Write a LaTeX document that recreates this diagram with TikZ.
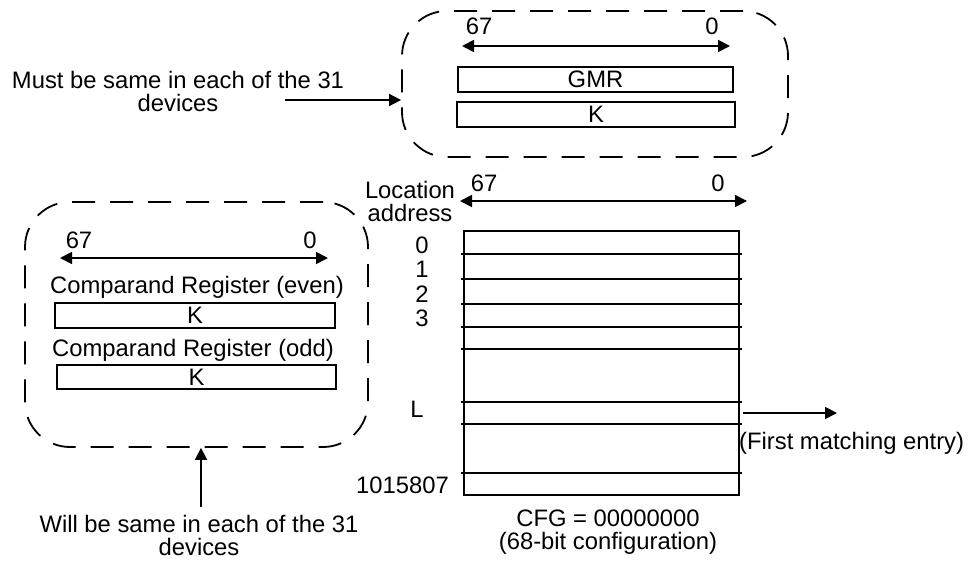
\documentclass[tikz,border=0pt]{standalone}
\usepackage{fontspec}
\setmainfont{Liberation Sans}
\usetikzlibrary{arrows.meta}
\begin{document}
\begin{tikzpicture}[x=1pt,y=-1pt,
  lbl/.style={inner sep=0pt,font=\fontsize{23.8}{23}\selectfont,align=center},
  reg/.style={draw,line width=1.8pt,inner sep=0pt,font=\fontsize{23.8}{23}\selectfont},
  dashbox/.style={draw,line width=1.8pt,dash pattern=on 23pt off 15pt,rounded corners=45pt,inner sep=0pt},
  arr/.style={line width=1.8pt,-{Triangle[length=12pt,width=12pt]}},
  dimarr/.style={line width=1.8pt,{Triangle[length=12pt,width=12pt]}-{Triangle[length=12pt,width=12pt]}},
  rowline/.style={line width=1.8pt}]
\useasboundingbox (0,0) rectangle (968,564);

% ---------- top group ----------
\node[dashbox,minimum width=386pt,minimum height=146pt] (grpA) at (595,84) {};
\coordinate (dA1) at (462,46);
\coordinate (dA2) at (730,46);
\draw[dimarr] (dA1) -- (dA2);
\node[lbl] (a67) at (479,26) {67};
\node[lbl] (a0) at (712,26) {0};
\node[reg,minimum width=275pt,minimum height=25pt] (gmr) at (595.5,79.5) {GMR};
\node[reg,minimum width=278pt,minimum height=25pt] (kA) at (596,114.5) {K};
\node[lbl] (must) at (178,91) {Must be same in each of the 31\\devices};
\coordinate (mustT) at (285,100);
\draw[arr] (mustT) -- (mustT -| grpA.west);

% ---------- left group ----------
\node[dashbox,minimum width=343pt,minimum height=245pt] (grpB) at (196.5,324.5) {};
\coordinate (dB1) at (60,258);
\coordinate (dB2) at (328,258);
\draw[dimarr] (dB1) -- (dB2);
\node[lbl] (b67) at (79,240) {67};
\node[lbl] (b0) at (310,240) {0};
\node[lbl] (ceven) at (197,287) {Comparand Register (even)};
\node[reg,minimum width=280pt,minimum height=25pt] (kB1) at (195,315.5) {K};
\node[lbl] (codd) at (193,350) {Comparand Register (odd)};
\node[reg,minimum width=279pt,minimum height=24pt] (kB2) at (196.5,377) {K};
\node[lbl] (will) at (199,535) {Will be same in each of the 31\\devices};
\coordinate (willT) at (201,507);
\draw[arr] (willT) -- (willT |- grpB.south);

% ---------- memory array ----------
\node[lbl] (loc) at (410,201.5) {Location\\address};
\coordinate (dC1) at (460,201);
\coordinate (dC2) at (747,201);
\draw[dimarr] (dC1) -- (dC2);
\node[lbl] (c67) at (484,183) {67};
\node[lbl] (c0) at (718,183) {0};
\node[draw,line width=1.8pt,minimum width=275pt,minimum height=264pt,inner sep=0pt] (mem) at (601.5,363) {};
\foreach \yy in {254,279,304,327,349,402,424,473}
  \draw[rowline] (461,\yy) -- (742,\yy);
\node[lbl] (r0) at (422,245) {0};
\node[lbl] (r1) at (422,269) {1};
\node[lbl] (r2) at (422,294) {2};
\node[lbl] (r3) at (422,318) {3};
\node[lbl] (rL) at (417,409) {L};
\node[lbl,anchor=east] (rN) at (449,485) {1015807};
\coordinate (Lrow) at (743,413);
\coordinate (Lend) at (837,413);
\draw[arr] (Lrow) -- (Lend);
\node[lbl,anchor=west] (first) at (739,443) {(First matching entry)};
\node[lbl] (cfg) at (608,532.5) {CFG = 00000000\\(68-bit configuration)};
\end{tikzpicture}
\end{document}
